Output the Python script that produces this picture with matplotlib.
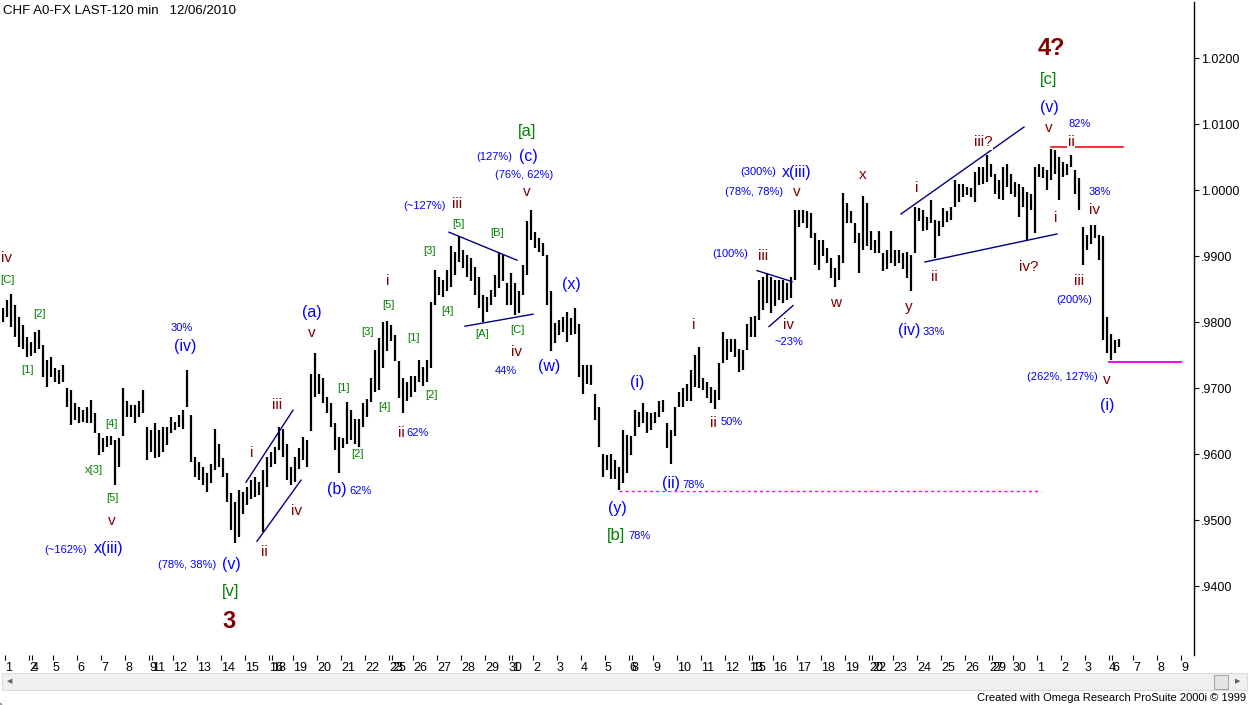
import matplotlib
matplotlib.use("Agg")
import matplotlib.pyplot as plt
from matplotlib.lines import Line2D
from matplotlib.patches import Rectangle
from matplotlib.ticker import FuncFormatter

plt.rcParams['font.family'] = ['Liberation Sans', 'DejaVu Sans']

W, H = 1249, 705

# 4-hour bars, 1 Oct - 6 Dec 2010, high / low in pips (price x 10000)
highs = [
    9821, 9834, 9843, 9826, 9808, 9796, 9778, 9770, 9786, 9788, 9765, 9743, 9748, 9730, 9727, 9735,
    9700, 9697, 9677, 9672, 9667, 9672, 9682, 9662, 9632, 9624, 9627, 9627, 9622, 9624, 9700, 9680,
    9675, 9675, 9680, 9697, 9642, 9637, 9647, 9637, 9642, 9642, 9657, 9649, 9659, 9667, 9727, 9660,
    9596, 9589, 9581, 9571, 9586, 9639, 9616, 9594, 9571, 9541, 9528, 9546, 9543, 9551, 9561, 9566,
    9558, 9576, 9596, 9604, 9611, 9642, 9639, 9616, 9581, 9596, 9609, 9626, 9621, 9722, 9753, 9722,
    9715, 9687, 9677, 9647, 9626, 9624, 9679, 9667, 9654, 9654, 9677, 9684, 9715, 9758, 9776, 9801,
    9802, 9796, 9781, 9741, 9715, 9710, 9718, 9718, 9743, 9733, 9743, 9831, 9879, 9869, 9864, 9879,
    9915, 9907, 9930, 9910, 9902, 9897, 9884, 9869, 9841, 9839, 9849, 9872, 9907, 9902, 9859, 9874,
    9859, 9847, 9887, 9953, 9970, 9937, 9927, 9920, 9902, 9847, 9799, 9803, 9808, 9816, 9806, 9821,
    9798, 9735, 9735, 9735, 9692, 9672, 9601, 9599, 9601, 9591, 9581, 9637, 9629, 9627, 9667, 9664,
    9678, 9664, 9662, 9664, 9680, 9682, 9647, 9637, 9672, 9695, 9700, 9707, 9727, 9750, 9763, 9715,
    9710, 9702, 9697, 9738, 9786, 9775, 9775, 9775, 9760, 9758, 9798, 9808, 9809, 9864, 9869, 9874,
    9869, 9864, 9864, 9864, 9859, 9869, 9970, 9970, 9970, 9968, 9965, 9935, 9925, 9925, 9912, 9897,
    9882, 9902, 9996, 9981, 9968, 9950, 9935, 9991, 9981, 9938, 9925, 9938, 9905, 9910, 9938, 9910,
    9910, 9905, 9907, 9902, 9975, 9973, 9970, 9960, 9986, 9955, 9953, 9973, 9968, 9975, 10015, 10010,
    10010, 10005, 10003, 10028, 10035, 10035, 10053, 10040, 10025, 10015, 10035, 10040, 10025, 10013, 10010, 10005,
    9998, 9995, 10035, 10040, 10035, 10030, 10063, 10061, 10051, 10043, 10040, 10053, 10030, 10018, 9945, 9932,
    9947, 9947, 9932, 9930, 9808, 9783, 9773, 9775,
]
lows = [
    9801, 9808, 9793, 9778, 9763, 9760, 9747, 9749, 9753, 9760, 9717, 9702, 9717, 9710, 9707, 9710,
    9672, 9644, 9652, 9647, 9649, 9647, 9647, 9632, 9599, 9604, 9611, 9614, 9553, 9581, 9627, 9657,
    9657, 9647, 9657, 9662, 9591, 9604, 9594, 9596, 9604, 9614, 9632, 9637, 9642, 9639, 9672, 9589,
    9566, 9561, 9553, 9543, 9556, 9576, 9581, 9566, 9528, 9485, 9465, 9475, 9510, 9523, 9533, 9536,
    9538, 9482, 9551, 9581, 9586, 9606, 9596, 9561, 9553, 9558, 9578, 9591, 9581, 9636, 9687, 9692,
    9677, 9662, 9642, 9606, 9571, 9609, 9616, 9621, 9616, 9611, 9642, 9657, 9679, 9695, 9698, 9730,
    9756, 9771, 9741, 9685, 9662, 9680, 9687, 9695, 9710, 9703, 9710, 9730, 9826, 9841, 9839, 9847,
    9854, 9872, 9892, 9882, 9869, 9862, 9841, 9821, 9801, 9816, 9826, 9839, 9852, 9862, 9826, 9826,
    9811, 9814, 9841, 9872, 9925, 9912, 9907, 9900, 9826, 9756, 9768, 9781, 9786, 9770, 9781, 9783,
    9717, 9692, 9707, 9705, 9652, 9611, 9566, 9576, 9563, 9563, 9546, 9556, 9571, 9599, 9627, 9642,
    9647, 9632, 9637, 9647, 9657, 9664, 9609, 9586, 9627, 9672, 9672, 9680, 9680, 9702, 9700, 9697,
    9685, 9677, 9669, 9682, 9738, 9743, 9755, 9748, 9725, 9728, 9758, 9778, 9778, 9804, 9819, 9829,
    9814, 9824, 9834, 9829, 9834, 9837, 9864, 9945, 9950, 9943, 9927, 9887, 9879, 9900, 9890, 9867,
    9854, 9864, 9890, 9950, 9950, 9920, 9874, 9910, 9915, 9910, 9905, 9905, 9877, 9880, 9890, 9885,
    9890, 9880, 9867, 9847, 9905, 9953, 9938, 9940, 9950, 9897, 9930, 9945, 9952, 9955, 9975, 9982,
    9990, 9993, 9990, 9982, 10008, 10010, 10013, 10020, 9995, 9987, 9985, 10005, 9995, 9990, 9960, 9975,
    9924, 9970, 9935, 10020, 10018, 10000, 10015, 10025, 9985, 10020, 10023, 10035, 9995, 9970, 9887, 9909,
    9919, 9927, 9894, 9773, 9753, 9743, 9753, 9763,
]

day_labels = ["1", "2", "5", "6", "7", "8", "9", "12", "13", "14", "15", "16", "19", "20", "21", "22",
              "23", "26", "27", "28", "29", "30", "2", "3", "4", "5", "6", "9", "10", "11", "12", "13",
              "16", "17", "18", "19", "20", "23", "24", "25", "26", "27", "30", "1", "2", "3", "4", "7",
              "8", "9"]
# second label squeezed in after a weekend (day index -> label)
weekend_labels = {1: "4", 6: "11", 11: "18", 16: "25", 21: "1", 26: "8", 31: "15", 36: "22",
                  41: "29", 46: "6"}
price_ticks = [0.94, 0.95, 0.96, 0.97, 0.98, 0.99, 1.00, 1.01, 1.02]

BARS_PER_DAY = 6

MAROON = '#800000'
BLUE = '#0000ff'
GREEN = '#008000'
NAVY = '#000080'

styles = {
    'M': dict(color=MAROON, fontsize=11),
    'B': dict(color=BLUE, fontsize=11.5),
    'b': dict(color=BLUE, fontsize=8),
    'G': dict(color=GREEN, fontsize=12),
    'g': dict(color=GREEN, fontsize=8),
    'D': dict(color=MAROON, fontsize=17, fontweight='bold'),
}

# wave labels: text, bar index, price, style
labels = [
    ("iv", 1.0, 0.98974, 'M'), ("[C]", 1.0, 0.98641, 'g'), ("[2]", 9.25, 0.98126, 'g'),
    ("[1]", 6.0, 0.97277, 'g'), ("30%", 44.75, 0.97914, 'b'), ("(iv)", 45.5, 0.97626, 'B'),
    ("[4]", 27.0, 0.96459, 'g'), ("x[3]", 22.75, 0.95762, 'g'), ("[5]", 27.25, 0.95338, 'g'),
    ("v", 27.25, 0.94989, 'M'), ("(~162%)", 15.75, 0.94550, 'b'), ("x(iii)", 26.5, 0.94580, 'B'),
    ("(a)", 77.25, 0.98141, 'B'), ("v", 77.25, 0.97838, 'M'), ("i", 96.25, 0.98626, 'M'),
    ("[5]", 96.25, 0.98262, 'g'), ("[3]", 91.0, 0.97853, 'g'), ("[1]", 85.25, 0.97005, 'g'),
    ("[4]", 95.25, 0.96717, 'g'), ("[2]", 88.5, 0.96005, 'g'), ("(b)", 83.5, 0.95474, 'B'),
    ("62%", 89.5, 0.95444, 'b'), ("iii", 68.5, 0.96747, 'M'), ("i", 62.25, 0.96020, 'M'),
    ("iv", 73.25, 0.95141, 'M'), ("ii", 65.25, 0.94520, 'M'), ("(78%, 38%)", 46.0, 0.94323, 'b'),
    ("(v)", 57.0, 0.94323, 'B'), ("[v]", 57.0, 0.93914, 'G'), ("3", 56.5, 0.93474, 'D'),
    ("[a]", 131.0, 1.00898, 'G'), ("(127%)", 122.75, 1.00505, 'b'), ("(c)", 131.25, 1.00505, 'B'),
    ("(76%, 62%)", 130.25, 1.00232, 'b'), ("v", 131.0, 0.99974, 'M'), ("(~127%)", 105.25, 0.99762, 'b'),
    ("iii", 113.5, 0.99792, 'M'), ("[5]", 113.75, 0.99489, 'g'), ("[B]", 123.5, 0.99353, 'g'),
    ("[3]", 106.75, 0.99080, 'g'), ("[4]", 111.0, 0.98171, 'g'), ("[A]", 119.75, 0.97823, 'g'),
    ("[C]", 128.5, 0.97883, 'g'), ("[1]", 102.75, 0.97762, 'g'), ("iv", 128.5, 0.97550, 'M'),
    ("44%", 125.75, 0.97262, 'b'), ("(w)", 136.5, 0.97323, 'B'), ("(x)", 142.0, 0.98580, 'B'),
    ("[2]", 107.25, 0.96898, 'g'), ("ii", 99.5, 0.96323, 'M'), ("62%", 103.75, 0.96323, 'b'),
    ("(i)", 158.5, 0.97086, 'B'), ("i", 172.75, 0.97965, 'M'), ("ii", 177.5, 0.96480, 'M'),
    ("50%", 182.25, 0.96495, 'b'), ("(100%)", 181.75, 0.99035, 'b'), ("iii", 190.0, 0.99005, 'M'),
    ("iv", 196.5, 0.97965, 'M'), ("~23%", 196.5, 0.97708, 'b'), ("(300%)", 188.75, 1.00277, 'b'),
    ("x(iii)", 198.5, 1.00277, 'B'), ("(78%, 78%)", 187.75, 0.99974, 'b'), ("v", 198.5, 0.99974, 'M'),
    ("(y)", 153.5, 0.95186, 'B'), ("[b]", 153.25, 0.94777, 'G'), ("78%", 159.25, 0.94762, 'b'),
    ("4?", 262.0, 1.02141, 'D'), ("[c]", 261.5, 1.01686, 'G'), ("(v)", 261.5, 1.01247, 'B'),
    ("v", 261.5, 1.00944, 'M'), ("82%", 269.25, 1.01005, 'b'),
    ("x", 215.0, 1.00232, 'M'), ("i", 228.5, 1.00035, 'M'), ("38%", 274.25, 0.99974, 'b'),
    ("iv", 273.0, 0.99702, 'M'), ("i", 263.25, 0.99580, 'M'), ("ii", 232.75, 0.98686, 'M'),
    ("iv?", 256.5, 0.98838, 'M'), ("iii", 269.0, 0.98626, 'M'), ("(200%)", 267.75, 0.98338, 'b'),
    ("w", 208.25, 0.98292, 'M'), ("y", 226.5, 0.98232, 'M'), ("(iv)", 226.5, 0.97883, 'B'),
    ("33%", 232.75, 0.97853, 'b'), ("(262%, 127%)", 264.75, 0.97171, 'b'), ("v", 276.0, 0.97126, 'M'),
    ("(i)", 276.0, 0.96732, 'B'),
]
# labels sitting on a drawn line (need white background)
boxed_labels = [
    ("ii", 267.0, 1.00732, 'M'), ("iii?", 245.0, 1.00732, 'M'),
    ("(ii)", 167.0, 0.95565, 'B'), ("78%", 172.75, 0.95535, 'b'),
]

# trend lines: (x0, p0, x1, p1)
channel_lines = [
    (60.75, 0.95577, 72.5, 0.96668), (63.5, 0.94683, 74.5, 0.95608),
    (111.5, 0.99365, 128.5, 0.98941), (115.5, 0.97941, 132.5, 0.98123),
    (188.5, 0.98783, 197.25, 0.98617), (191.5, 0.97935, 197.5, 0.98253),
    (224.5, 0.99641, 255.25, 1.00959), (230.5, 0.98914, 263.5, 0.99338),
]

fig = plt.figure(figsize=(W / 100, H / 100), dpi=100)
fig.patch.set_facecolor('white')
ax = fig.add_axes([2 / W, 50 / H, 1192 / W, 653 / H])
ax.set_xlim(-0.25, 297.75)
ax.set_ylim(0.92959, 1.02853)

idx = list(range(len(highs)))
ax.vlines(idx, [v / 10000 for v in lows], [v / 10000 for v in highs], color='black', lw=1.6)

for x0, p0, x1, p1 in channel_lines:
    ax.plot([x0, x1], [p0, p1], color=NAVY, lw=1.0)

ax.plot([262.0, 280.0], [1.00656, 1.00656], color='#ee1111', lw=1.2)
ax.plot([276.5, 294.5], [0.97399, 0.97399], color='#ff00ff', lw=1.4)
ax.plot([154.0, 259.5], [0.95444, 0.95444], color='#ff00ff', lw=1.0, linestyle=(0, (2.2, 2.2)))

for text, x, p, st in labels:
    ax.text(x, p, text, ha='center', va='center', **styles[st])
for text, x, p, st in boxed_labels:
    ax.text(x, p, text, ha='center', va='center',
            bbox=dict(facecolor='white', edgecolor='none', pad=0.5), **styles[st])

# axes styling
for side in ['left', 'top', 'bottom']:
    ax.spines[side].set_visible(False)
ax.spines['right'].set_color('black')
ax.spines['right'].set_linewidth(1.0)

ax.yaxis.tick_right()
ax.set_yticks(price_ticks)
ax.yaxis.set_major_formatter(FuncFormatter(
    lambda v, pos: f"{v:.4f}" if v >= 1 else f"{v:.4f}"[1:]))
ax.tick_params(axis='y', direction='out', length=3.6, width=0.8, pad=1.5, labelsize=9)

major_pos = [0.5 + BARS_PER_DAY * k for k in range(len(day_labels))]
ax.set_xticks(major_pos, labels=day_labels)
minor_keys = sorted(weekend_labels)
ax.set_xticks([0.5 + BARS_PER_DAY * k + 0.75 for k in minor_keys],
              labels=[weekend_labels[k] for k in minor_keys], minor=True)
ax.tick_params(axis='x', which='both', direction='out', length=3.6, width=0.8, pad=1.2,
               labelsize=9)
for lbl in ax.get_xticklabels() + ax.get_xticklabels(minor=True):
    lbl.set_ha('left')

# window frame, bottom axis line, scrollbar, captions
def fx(px):
    return px / W

def fy(py):
    return 1 - py / H

fig.lines.append(Line2D([fx(2), fx(1247)], [fy(655), fy(655)], color='black', lw=1.0))
fig.lines.append(Line2D([fx(0.7), fx(0.7)], [fy(0), fy(690)], color='#808080', lw=1.5))
fig.lines.append(Line2D([fx(0), fx(1248)], [fy(1), fy(1)], color='#a0a0a0', lw=1.0))
fig.lines.append(Line2D([fx(1247), fx(1247)], [fy(0), fy(690)], color='#a0a0a0', lw=1.0))
fig.patches.append(Rectangle((fx(2), fy(690)), fx(1245), 17 / H, facecolor='#f0f0f0',
                             edgecolor='#dcdcdc', lw=0.8, transform=fig.transFigure))
fig.patches.append(Rectangle((fx(1214), fy(689)), fx(14), 14 / H, facecolor='#e4e4e4',
                             edgecolor='#a8a8a8', lw=0.8, transform=fig.transFigure))
fig.text(fx(10), fy(681.5), "\u25c0", color='#606060', fontsize=5, ha='center', va='center',
         family='DejaVu Sans')
fig.text(fx(1238), fy(681.5), "\u25b6", color='#606060', fontsize=5, ha='center', va='center',
         family='DejaVu Sans')

fig.text(fx(3), fy(11), "CHF A0-FX LAST-120 min   12/06/2010", ha='left', va='center',
         fontsize=9.5, color='black')
fig.text(fx(1246), fy(698), "Created with Omega Research ProSuite 2000i \u00a9 1999",
         ha='right', va='center', fontsize=8, color='black')

fig.savefig("out.png", dpi=100)
